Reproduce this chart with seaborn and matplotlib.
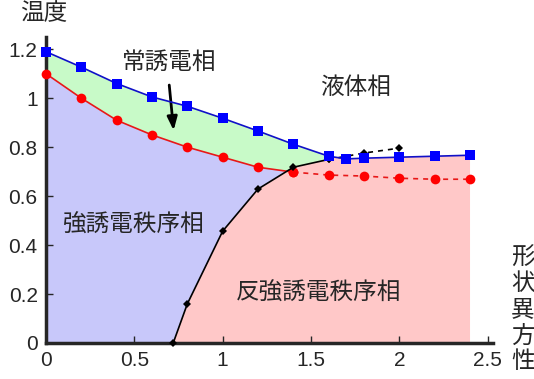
import seaborn as sns
import pandas as pd
import matplotlib.pyplot as plt
from matplotlib.ticker import FuncFormatter

# 常誘電相の転移温度 (青)
x_para = [0, 0.2, 0.4, 0.6, 0.8, 1.0, 1.2, 1.4, 1.6, 1.7, 1.8, 2.0, 2.2, 2.4]
t_para = [1.19, 1.127, 1.06, 1.005, 0.967, 0.918, 0.866, 0.812, 0.763, 0.752, 0.755, 0.759, 0.763, 0.767]

# 強誘電秩序相の境界 (赤)
x_ferro = [0, 0.2, 0.4, 0.6, 0.8, 1.0, 1.2, 1.4, 1.6, 1.8, 2.0, 2.2, 2.4]
t_ferro = [1.10, 1.0, 0.91, 0.85, 0.80, 0.759, 0.718, 0.698, 0.686, 0.682, 0.673, 0.669, 0.669]

# 反強誘電秩序相の境界 (黒)
x_anti = [0.72, 0.8, 1.0, 1.2, 1.4, 1.6, 1.8, 2.0]
t_anti = [0.0, 0.16, 0.457, 0.629, 0.718, 0.75, 0.776, 0.796]

xticks = [0, 0.5, 1, 1.5, 2, 2.5]
yticks = [0, 0.2, 0.4, 0.6, 0.8, 1.0, 1.2]

sns.set_style("ticks")
plt.rcParams['font.family'] = ['Liberation Sans', 'Noto Sans CJK JP', 'DejaVu Sans']
jp = ['Noto Sans CJK JP', 'DejaVu Sans']

fig = plt.figure(figsize=(5.34, 3.79), dpi=100)
ax = fig.add_axes([46 / 534, 36 / 379, (493 - 46) / 534, (343 - 37) / 379])

para = pd.DataFrame({"x": x_para, "t": t_para})
ferro = pd.DataFrame({"x": x_ferro, "t": t_ferro})
anti = pd.DataFrame({"x": x_anti, "t": t_anti})

n_f = x_ferro.index(1.4)
n_p = x_para.index(1.6)
n_a = x_anti.index(1.4)
n_a2 = x_anti.index(1.6)

# 塗りつぶし領域
blue_x = [0] + x_ferro[:n_f + 1] + x_anti[:n_a + 1][::-1]
blue_y = [0] + t_ferro[:n_f + 1] + t_anti[:n_a + 1][::-1]
ax.fill(blue_x, blue_y, color="#c8c8fa", lw=0, zorder=0)

green_x = x_para[:n_p + 1] + x_anti[n_a:n_a2 + 1][::-1] + x_ferro[:n_f + 1][::-1]
green_y = t_para[:n_p + 1] + t_anti[n_a:n_a2 + 1][::-1] + t_ferro[:n_f + 1][::-1]
ax.fill(green_x, green_y, color="#c8fac8", lw=0, zorder=0)

pink_x = x_anti[:n_a2 + 1] + x_para[n_p:] + [x_para[-1], x_anti[0]]
pink_y = t_anti[:n_a2 + 1] + t_para[n_p:] + [0, 0]
ax.fill(pink_x, pink_y, color="#ffc8c8", lw=0, zorder=0)

# 境界線
sns.lineplot(data=ferro.iloc[:n_f + 1], x="x", y="t", ax=ax, color="#e81818", lw=1.2,
             marker="o", markersize=7, markeredgewidth=0, markerfacecolor="red", zorder=7, clip_on=False)
sns.lineplot(data=ferro.iloc[n_f:], x="x", y="t", ax=ax, color="#e81818", lw=1.2, ls=(0, (3, 3)),
             marker="o", markersize=7, markeredgewidth=0, markerfacecolor="red", zorder=7, clip_on=False)
sns.lineplot(data=anti.iloc[:n_a2 + 1], x="x", y="t", ax=ax, color="black", lw=1.2,
             marker="D", markersize=4.5, markeredgewidth=0, zorder=8, clip_on=False)
sns.lineplot(data=anti.iloc[n_a2:], x="x", y="t", ax=ax, color="black", lw=1.2, ls=(0, (3, 3)),
             marker="D", markersize=4.5, markeredgewidth=0, zorder=8, clip_on=False)
sns.lineplot(data=para, x="x", y="t", ax=ax, color="#1010c8", lw=1.2,
             marker="s", markersize=6.5, markeredgewidth=0, markerfacecolor="blue", zorder=9, clip_on=False)

ax.set_xlim(0, 2.53)
ax.set_ylim(0, 1.25)
ax.set_xticks(xticks)
ax.set_yticks(yticks)
fmt = FuncFormatter(lambda v, p: f"{v:g}")
ax.xaxis.set_major_formatter(fmt)
ax.yaxis.set_major_formatter(fmt)
ax.tick_params(direction="in", length=5, width=1, labelsize=15, pad=6)
ax.set_xlabel("")
ax.set_ylabel("")
sns.despine(ax=ax)
for s in ["left", "bottom"]:
    ax.spines[s].set_linewidth(2.5)
    ax.spines[s].set_zorder(6)

# ラベル
ax.text(0.70, 1.147, "常誘電相", family=jp, fontsize=17, ha="center", va="center")
ax.annotate("", xy=(0.724, 0.857), xytext=(0.696, 1.065),
            arrowprops=dict(arrowstyle="-|>,head_length=0.8,head_width=0.3", color="black", lw=2))
ax.text(1.753, 1.045, "液体相", family=jp, fontsize=17, ha="center", va="center")
ax.text(0.498, 0.482, "強誘電秩序相", family=jp, fontsize=17, ha="center", va="center")
ax.text(1.544, 0.204, "反強誘電秩序相", family=jp, fontsize=17, ha="center", va="center")
fig.text(44 / 534, 1 - 14 / 379, "温度", family=jp, fontsize=17, ha="center", va="center")
for i, ch in enumerate("形状異方性"):
    fig.text(523 / 534, 1 - (258 + 26 * i) / 379, ch, family=jp, fontsize=17, ha="center", va="center")

fig.savefig("out.png", dpi=100)
